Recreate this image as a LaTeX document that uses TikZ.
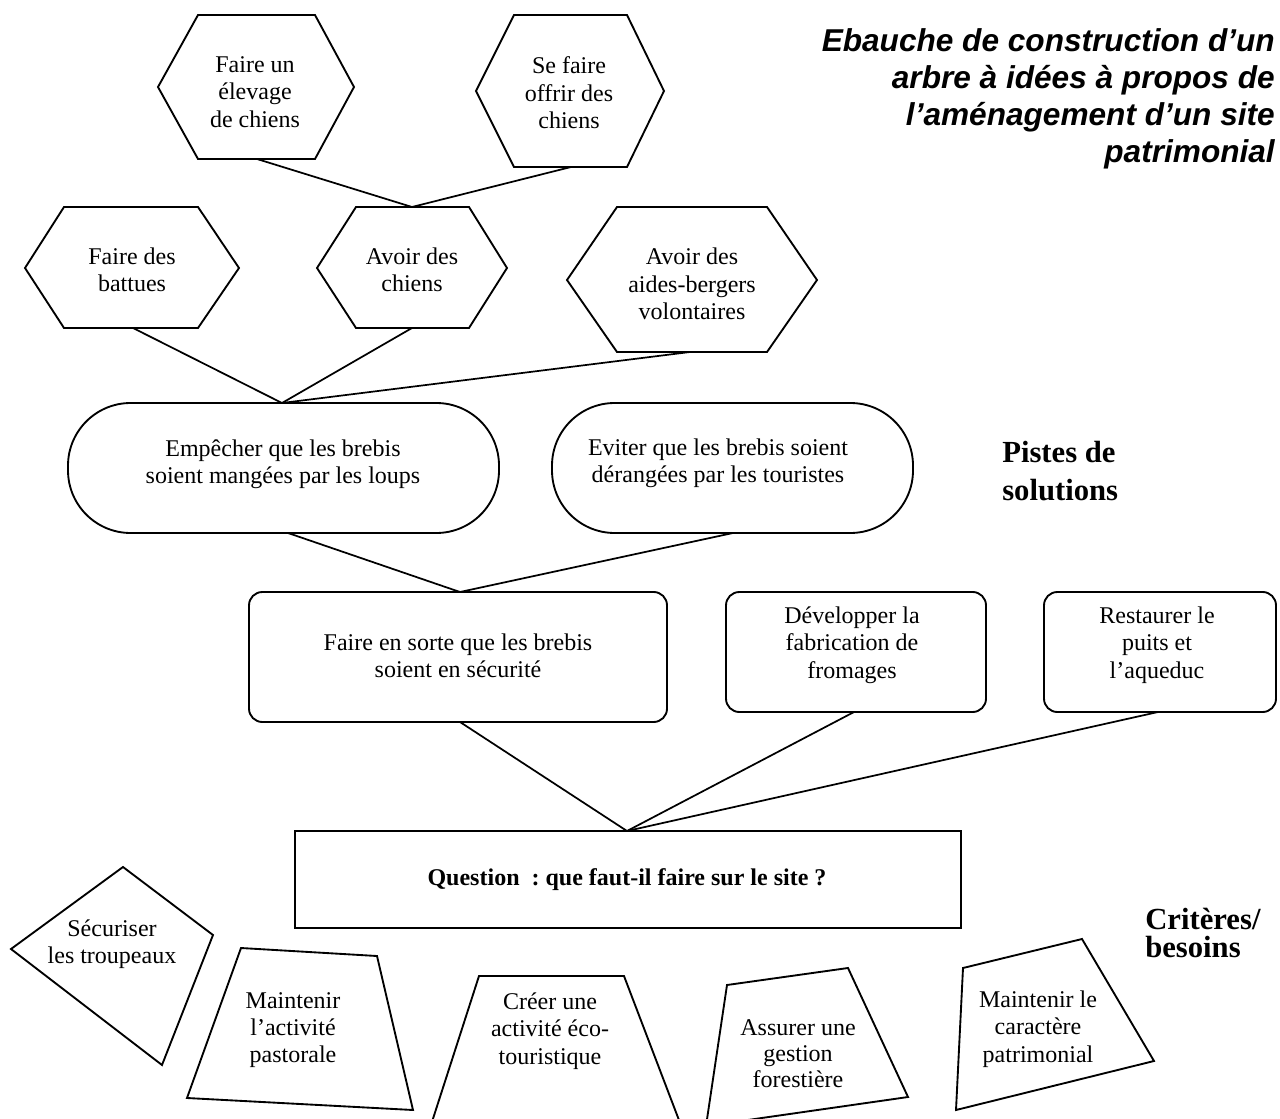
\documentclass[tikz,border=0pt]{standalone}
\usepackage{fontspec}
\setmainfont{Liberation Serif}
\newfontfamily\titlefont{Liberation Sans}
\begin{document}
\frenchspacing
\begin{tikzpicture}[x=0.75pt,y=-0.75pt,
  shp/.style={draw, line width=1.4pt, line join=miter},
  conn/.style={line width=1.3pt},
  lbl/.style={align=center, inner sep=0pt, font=\fontsize{18}{20.5}\selectfont},
  side/.style={align=left, inner sep=0pt, anchor=west},
]
\clip (0,0) rectangle (1280,1119);
\fill[white] (0,0) rectangle (1280,1119);

% ---- title
\node[anchor=east, align=right, inner sep=0pt,
  font={\titlefont\bfseries\itshape\fontsize{23.7}{27.7}\selectfont}] (title) at (1275,99)
  {Ebauche de construction d’un\\arbre à idées à propos de\\l’aménagement d’un site\\patrimonial};

% ---- top hexagons
\draw[shp] (158,87) -- (198,15) -- (315,15) -- (354,87) -- (315,159) -- (198,159) -- cycle;
\node[lbl] (t1) at (255,92) {Faire un\\élevage\\de chiens};
\draw[shp] (476,91) -- (514,15) -- (627,15) -- (664,91) -- (627,167) -- (514,167) -- cycle;
\node[lbl] (t2) at (569,93) {Se faire\\offrir des\\chiens};

% ---- second row hexagons
\draw[shp] (25,268) -- (64,207) -- (198,207) -- (239,268) -- (198,328) -- (64,328) -- cycle;
\node[lbl] (t3) at (132,270) {Faire des\\battues};
\draw[shp] (317,268) -- (356,207) -- (469,207) -- (507,268) -- (469,328) -- (356,328) -- cycle;
\node[lbl] (t4) at (412,270) {Avoir des\\chiens};
\draw[shp] (567,280) -- (617,207) -- (767,207) -- (817,280) -- (767,352) -- (617,352) -- cycle;
\node[lbl] (t5) at (692,284) {Avoir des\\aides-bergers\\volontaires};

\coordinate (h1b) at (257,159);
\coordinate (h2b) at (571,167);
\coordinate (h4t) at (412,207);
\coordinate (h3b) at (133,328);
\coordinate (h4b) at (412,328);
\coordinate (h5b) at (690,352);
\draw[conn] (h1b) -- (h4t);
\draw[conn] (h2b) -- (h4t);

% ---- stadiums
\draw[shp, rounded corners=47pt] (68,403) rectangle (499,533);
\node[lbl] (t6) at (283,464) {Empêcher que les brebis\\soient mangées par les loups};
\draw[shp, rounded corners=47pt] (552,403) rectangle (913,533);
\node[lbl] (t7) at (718,463) {Eviter que les brebis soient\\dérangées par les touristes};
\coordinate (e1t) at (282,403);
\coordinate (e1b) at (288,533);
\coordinate (e2b) at (733,533);
\draw[conn] (h3b) -- (e1t);
\draw[conn] (h4b) -- (e1t);
\draw[conn] (h5b) -- (e1t);

\node[side, font={\bfseries\fontsize{23}{28}\selectfont}] (pistes) at (1002,471) {Pistes de\\solutions};

% ---- rounded rectangles
\draw[shp, rounded corners=10pt] (249,592) rectangle (667,722);
\node[lbl] (t8) at (458,656) {Faire en sorte que les brebis\\soient en sécurité};
\draw[shp, rounded corners=10pt] (726,592) rectangle (986,712);
\node[lbl] (t9) at (852,645) {Développer la\\fabrication de\\fromages};
\draw[shp, rounded corners=10pt] (1044,592) rectangle (1276,712);
\node[lbl] (t10) at (1157,645) {Restaurer le\\puits et\\l’aqueduc};
\coordinate (ft) at (460,592);
\coordinate (fb) at (460,722);
\coordinate (db) at (854,712);
\coordinate (rb) at (1158,712);
\draw[conn] (e1b) -- (ft);
\draw[conn] (e2b) -- (ft);

% ---- question
\draw[shp] (295,831) rectangle (961,928);
\node[lbl, font={\bfseries\fontsize{18}{20.5}\selectfont}] (q) at (627,880) {Question\enspace: que faut-il faire sur le site ?};
\coordinate (qt) at (627,831);
\draw[conn] (fb) -- (qt);
\draw[conn] (db) -- (qt);
\draw[conn] (rb) -- (qt);

\node[side, font={\bfseries\fontsize{23}{21.5}\selectfont}] (crit) at (1145,933) {Critères/\\besoins};

% ---- criteria quadrilaterals
\draw[shp] (123,867) -- (213,935) -- (162,1065) -- (11,949) -- cycle;
\node[lbl] (c1) at (112,944) {Sécuriser\\les troupeaux};
\draw[shp] (241,948) -- (377,956) -- (413,1110) -- (187,1098) -- cycle;
\node[lbl] (c2) at (293,1030) {Maintenir\\l’activité\\pastorale};
\draw[shp] (479,976) -- (624,976) -- (682,1128) -- (430,1128) -- cycle;
\node[lbl] (c3) at (550,1031) {Créer une\\activité éco-\\touristique};
\draw[shp] (727,985) -- (848,968) -- (908,1097) -- (706,1126) -- cycle;
\node[lbl, font=\fontsize{18}{19.5}\selectfont] (c4) at (798,1054) {Assurer une\\gestion\\forestière};
\draw[shp] (963,968) -- (1082,939) -- (1154,1061) -- (956,1110) -- cycle;
\node[lbl] (c5) at (1038,1029) {Maintenir le\\caractère\\patrimonial};
\end{tikzpicture}
\end{document}
